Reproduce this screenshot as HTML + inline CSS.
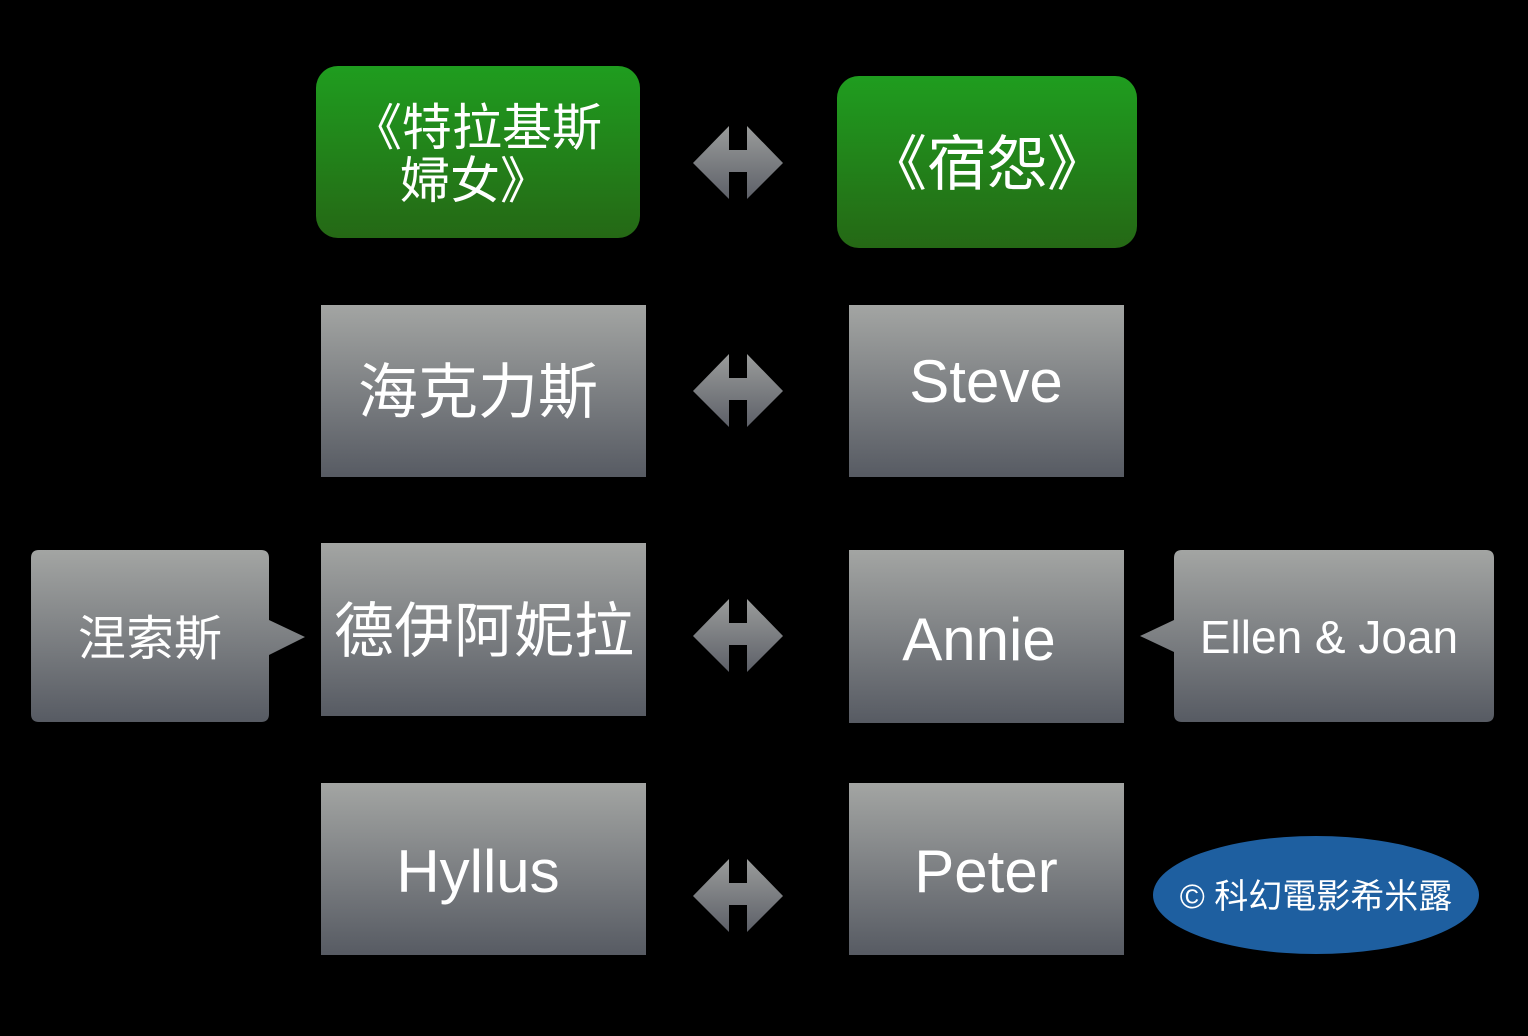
<!DOCTYPE html>
<html><head><meta charset="utf-8"><style>
html,body{margin:0;padding:0;background:#000;}
svg{display:block}
text{font-family:"Liberation Sans","Noto Sans CJK TC",sans-serif;fill:#fff;}
</style></head><body>
<svg width="1528" height="1036" viewBox="0 0 1528 1036" xmlns="http://www.w3.org/2000/svg">
<defs>
<linearGradient id="g" x1="0" y1="0" x2="0" y2="1"><stop offset="0" stop-color="#a3a5a3"/><stop offset="1" stop-color="#575b63"/></linearGradient>
<linearGradient id="gr" x1="0" y1="0" x2="0" y2="1"><stop offset="0" stop-color="#1f9d1f"/><stop offset="1" stop-color="#256815"/></linearGradient>
<linearGradient id="ga" x1="0" y1="0" x2="0" y2="1"><stop offset="0" stop-color="#9a9c9b"/><stop offset="1" stop-color="#5d6068"/></linearGradient>
<path id="arr" d="M0,37 L36,0 L36,24 L54,24 L54,0 L90,37 L54,73 L54,46 L36,46 L36,73 Z" fill="url(#ga)"/>
</defs>
<rect width="1528" height="1036" fill="#000"/>
<rect x="316" y="66" width="324" height="172" rx="22" fill="url(#gr)"/>
<rect x="837" y="76" width="300" height="172" rx="22" fill="url(#gr)"/>
<text x="352" y="145" font-size="50">《特拉基斯</text>
<text x="400" y="198" font-size="50">婦女》</text>
<text x="987" y="185" font-size="60" text-anchor="middle">《宿怨》</text>
<rect x="321" y="305" width="325" height="172" fill="url(#g)"/>
<rect x="849" y="305" width="275" height="172" fill="url(#g)"/>
<text x="478" y="413" font-size="60" text-anchor="middle">海克力斯</text>
<text x="986" y="402" font-size="60" text-anchor="middle">Steve</text>
<rect x="321" y="543" width="325" height="173" fill="url(#g)"/>
<rect x="849" y="550" width="275" height="173" fill="url(#g)"/>
<text x="484" y="652" font-size="60" text-anchor="middle">德伊阿妮拉</text>
<text x="979" y="660" font-size="60" text-anchor="middle">Annie</text>
<path d="M39,550 H261 Q269,550 269,558 V620 L305,637 L269,655 V714 Q269,722 261,722 H39 Q31,722 31,714 V558 Q31,550 39,550 Z" fill="url(#g)"/>
<text x="150" y="655" font-size="48" text-anchor="middle">涅索斯</text>
<path d="M1182,550 H1486 Q1494,550 1494,558 V714 Q1494,722 1486,722 H1182 Q1174,722 1174,714 V652 L1140,636 L1174,620 V558 Q1174,550 1182,550 Z" fill="url(#g)"/>
<text x="1329" y="653" font-size="46" text-anchor="middle">Ellen &amp; Joan</text>
<rect x="321" y="783" width="325" height="172" fill="url(#g)"/>
<rect x="849" y="783" width="275" height="172" fill="url(#g)"/>
<text x="478" y="892" font-size="60" text-anchor="middle">Hyllus</text>
<text x="986" y="892" font-size="60" text-anchor="middle">Peter</text>
<ellipse cx="1316" cy="895" rx="163" ry="59" fill="#1e5fa0"/>
<text x="1316" y="908" font-size="34" text-anchor="middle">© 科幻電影希米露</text>
<use href="#arr" x="693" y="126"/>
<use href="#arr" x="693" y="354"/>
<use href="#arr" x="693" y="599"/>
<use href="#arr" x="693" y="859"/>
</svg>
</body></html>
